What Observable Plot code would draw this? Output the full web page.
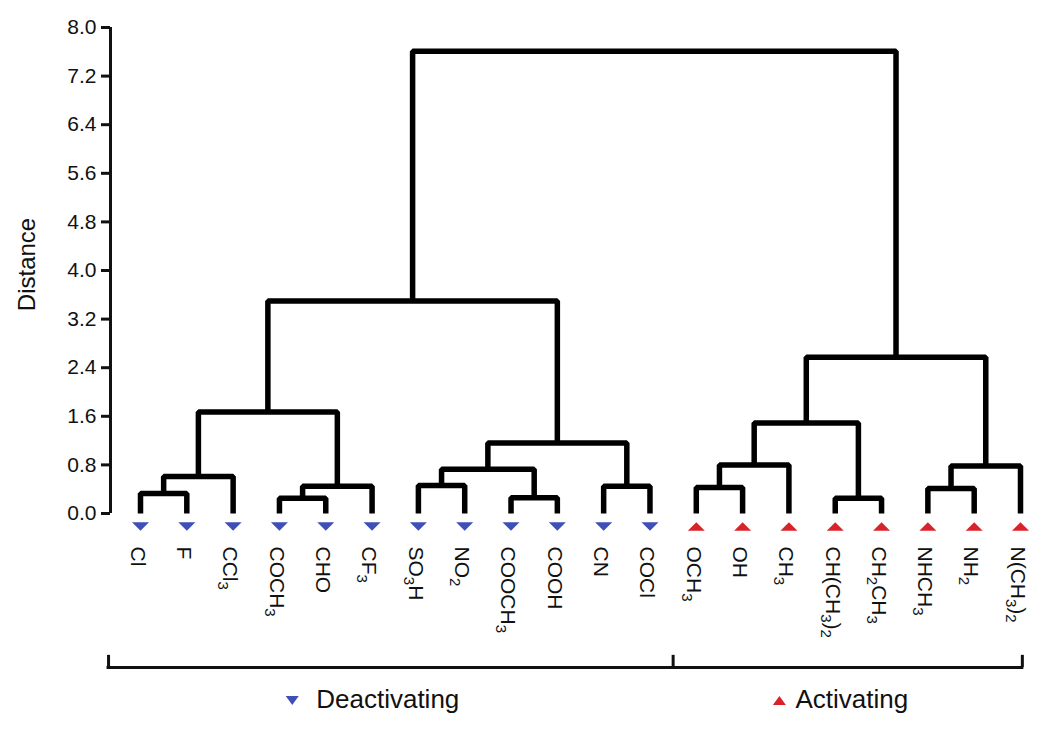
<!DOCTYPE html>
<html>
<head>
<meta charset="utf-8">
<script src="https://cdn.jsdelivr.net/npm/d3@7"></script>
<script src="https://cdn.jsdelivr.net/npm/@observablehq/plot@0.6"></script>
<style>
  html, body { margin: 0; padding: 0; background: #fff; overflow: hidden; }
  #chart svg { display: block; }
</style>
</head>
<body>
<div id="chart"></div>
<script>
// ---- data ----
const leaves = ["Cl","F","CCl3","COCH3","CHO","CF3","SO3H","NO2","COOCH3","COOH","CN","COCl",
                "OCH3","OH","CH3","CH(CH3)2","CH2CH3","NHCH3","NH2","N(CH3)2"];
const leafGroup = ["Deactivating","Deactivating","Deactivating","Deactivating","Deactivating","Deactivating",
                   "Deactivating","Deactivating","Deactivating","Deactivating","Deactivating","Deactivating",
                   "Activating","Activating","Activating","Activating","Activating","Activating","Activating","Activating"];
// linkage: children are leaf indices (0-19) or merge ids (20 + k)
const mergeLeft   = [0, 20, 3, 22, 21, 6, 8, 25, 10, 27, 24, 12, 31, 15, 32, 17, 35, 34, 30];
const mergeRight  = [1,  2, 4,  5, 23, 7, 9, 26, 11, 28, 29, 13, 14, 16, 33, 18, 19, 36, 37];
const mergeHeight = [0.33, 0.61, 0.25, 0.45, 1.67, 0.46, 0.26, 0.73, 0.45, 1.16, 3.50,
                     0.43, 0.80, 0.25, 1.49, 0.41, 0.78, 2.57, 7.61];
const groups = ["Deactivating", "Activating"];
const groupColors = ["#3f4fb8", "#d9232b"];
const yTicks = [0.0, 0.8, 1.6, 2.4, 3.2, 4.0, 4.8, 5.6, 6.4, 7.2, 8.0];

// ---- build dendrogram links ----
const n = leaves.length;
const nodeX = leaves.map((_, i) => i);
const nodeY = leaves.map(() => 0);
const links = [];
mergeLeft.forEach((a, k) => {
  const b = mergeRight[k], h = mergeHeight[k], id = n + k;
  nodeX[id] = (nodeX[a] + nodeX[b]) / 2;
  nodeY[id] = h;
  links.push({id, x: nodeX[a], y: nodeY[a]}, {id, x: nodeX[a], y: h},
             {id, x: nodeX[b], y: h}, {id, x: nodeX[b], y: nodeY[b]});
});
const leafData = leaves.map((name, i) => ({name, i, group: leafGroup[i]}));
const groupMid = groups.map(g => d3.mean(leafData.filter(d => d.group === g), d => d.i));
const groupEnd = groups.map(g => d3.max(leafData.filter(d => d.group === g), d => d.i));
const boundary = (groupEnd[0] + groupEnd[0] + 1) / 2;

const triDown = {draw(ctx) { const w = 8.5, h = 4.3; ctx.moveTo(-w, -h); ctx.lineTo(w, -h); ctx.lineTo(0, h); ctx.closePath(); }};
const triUp   = {draw(ctx) { const w = 8.5, h = 4.3; ctx.moveTo(-w, h); ctx.lineTo(w, h); ctx.lineTo(0, -h); ctx.closePath(); }};
const legTriDown = {draw(ctx) { const w = 6.5, h = 4.5; ctx.moveTo(-w, -h); ctx.lineTo(w, -h); ctx.lineTo(0, h); ctx.closePath(); }};
const legTriUp   = {draw(ctx) { const w = 6.5, h = 4.5; ctx.moveTo(-w, h); ctx.lineTo(w, h); ctx.lineTo(0, -h); ctx.closePath(); }};

const bracketL = -0.69, bracketR = (n - 1) + 0.04;

const chart = Plot.plot({
  width: 1045,
  height: 732,
  marginLeft: 110,
  marginRight: 20,
  marginTop: 27,
  marginBottom: 219,
  style: {fontFamily: "'Liberation Sans', Arial, sans-serif", color: "#111", background: "#fff"},
  x: {domain: [0, n - 1], range: [140, 1020], axis: null},
  y: {domain: [0, 8], range: [513, 27], axis: null},
  marks: [
    Plot.axisY({ticks: yTicks, tickFormat: d => d.toFixed(1), tickSize: 9, tickPadding: 5,
                fontSize: 21, strokeWidth: 3, label: null}),
    Plot.ruleX([0], {y1: 0, y2: 8, dx: -30, strokeWidth: 3, stroke: "#111"}),
    Plot.text(["Distance"], {frameAnchor: "left", textAnchor: "middle", dx: -83, dy: -6, rotate: -90, fontSize: 24, fill: "#111"}),
    Plot.line(links, {x: "x", y: "y", z: "id", stroke: "#000", strokeWidth: 5.5,
                      strokeLinejoin: "miter", strokeLinecap: "butt"}),
    Plot.dot(leafData.filter(d => d.group === groups[0]), {x: "i", y: 0, dy: 13, symbol: triDown, fill: groupColors[0], stroke: "none"}),
    Plot.dot(leafData.filter(d => d.group === groups[1]), {x: "i", y: 0, dy: 13, symbol: triUp, fill: groupColors[1], stroke: "none"}),
    Plot.text(leafData, {x: "i", y: 0, text: "name", rotate: 90, textAnchor: "start", lineAnchor: "middle",
                         dy: 33, dx: -3, fontSize: 21, fill: "#111"}),
    // bracket
    Plot.ruleY([0], {x1: bracketL, x2: bracketR, dy: 154, strokeWidth: 3, stroke: "#111", strokeLinecap: "square"}),
    Plot.ruleX([bracketL, boundary, bracketR], {y1: 0, y2: 0.2, dy: 154, strokeWidth: 3, stroke: "#111"}),
    // legend
    Plot.dot([groupMid[0]], {x: d => d, y: 0, dy: 187, dx: -103, symbol: legTriDown, fill: groupColors[0], stroke: "none"}),
    Plot.text([groups[0]], {x: () => groupMid[0], y: 0, dy: 186, dx: -79, textAnchor: "start", fontSize: 26, fill: "#111"}),
    Plot.dot([groupMid[1]], {x: d => d, y: 0, dy: 187, dx: -79, symbol: legTriUp, fill: groupColors[1], stroke: "none"}),
    Plot.text([groups[1]], {x: () => groupMid[1], y: 0, dy: 186, dx: -63, textAnchor: "start", fontSize: 26, fill: "#111"})
  ]
});

// subscripts for chemical formulas
const leafSet = new Set(leaves);
chart.querySelectorAll("text").forEach(t => {
  const s = t.textContent;
  if (!leafSet.has(s) || !/\d/.test(s)) return;
  while (t.firstChild) t.removeChild(t.firstChild);
  const runs = s.match(/\d+|[^\d]+/g) || [];
  let shifted = false;
  runs.forEach(r => {
    const ts = document.createElementNS("http://www.w3.org/2000/svg", "tspan");
    ts.textContent = r;
    if (/^\d+$/.test(r)) {
      ts.setAttribute("font-size", "15");
      if (!shifted) { ts.setAttribute("dy", "5"); shifted = true; }
    } else if (shifted) {
      ts.setAttribute("dy", "-5"); shifted = false;
    }
    t.appendChild(ts);
  });
});

document.getElementById("chart").appendChild(chart);
</script>
</body>
</html>
